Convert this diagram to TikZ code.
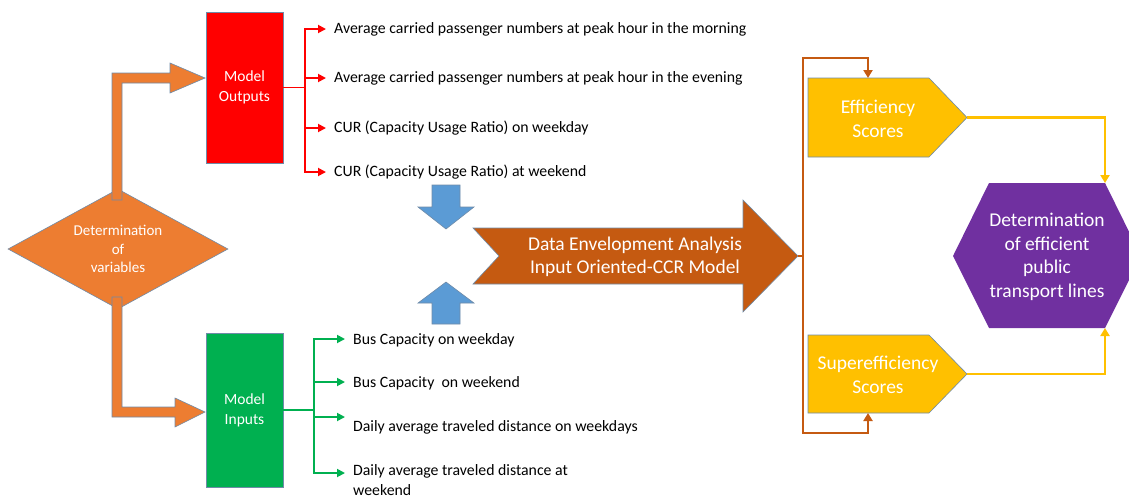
\documentclass[tikz,border=0pt]{standalone}
\usepackage{fontspec}
\setmainfont{Carlito}
\usetikzlibrary{shapes.geometric,arrows.meta}
\definecolor{orng}{HTML}{ED7D31}
\definecolor{brwn}{HTML}{C55A11}
\definecolor{blu}{HTML}{5B9BD5}
\definecolor{gold}{HTML}{FFC000}
\definecolor{purp}{HTML}{7030A0}
\definecolor{grn}{HTML}{00B050}
\definecolor{edgec}{HTML}{6F8BA8}
\begin{document}
\begin{tikzpicture}[x=1pt,y=-1pt,
  shp/.style={draw=edgec,line width=0.6pt},
  lbl/.style={font=\fontsize{15.8}{20.5}\selectfont,anchor=west,inner sep=0pt,align=left},
  boxlbl/.style={text=white,align=center,font=\fontsize{15.5}{20}\selectfont},
  bigtxt/.style={text=white,align=center,font=\fontsize{19.5}{23.5}\selectfont},
  mbox/.style={shp,minimum width=77pt,inner sep=0pt},
  redc/.style={draw=red,line width=1.8pt,-{Triangle[length=8pt,width=8pt]}},
  grnc/.style={draw=grn,line width=1.8pt,-{Triangle[length=8pt,width=8pt]}},
  brnc/.style={draw=brwn,line width=2.2pt,-{Triangle[length=8pt,width=9pt]}},
  yelc/.style={draw=gold,line width=2.2pt,-{Triangle[length=8pt,width=9pt]}}]
\clip (0,0) rectangle (1129,501);
\fill[white] (0,0) rectangle (1129,501);

% diamond
\node[shp,fill=orng,diamond,aspect=1.83,minimum width=220pt,minimum height=120pt,inner sep=0pt,
  boxlbl,font=\fontsize{15}{18.5}\selectfont] (var) at (118,249) {Determination\\of\\variables};

% model boxes
\node[mbox,fill=red,minimum height=151pt,boxlbl] (out) at (244.5,87.5) {Model\\Outputs};
\node[mbox,fill=grn,minimum height=154pt,boxlbl] (inp) at (244.5,410) {Model\\Inputs};

% orange L arrows
\fill[orng,shp] (112,200) -- (112,73) -- (170,73) -- (170,63) -- (205,78) -- (170,93) -- (170,83) -- (122,83) -- (122,200) -- cycle;
\fill[orng,shp] (112,297) -- (112,417) -- (175,417) -- (175,427) -- (205,412) -- (175,398) -- (175,407) -- (122,407) -- (122,297) -- cycle;

% output labels
\node[lbl] (o1) at (334,29) {Average carried passenger numbers at peak hour in the morning};
\node[lbl] (o2) at (334,78) {Average carried passenger numbers at peak hour in the evening};
\node[lbl] (o3) at (334,128) {CUR (Capacity Usage Ratio) on weekday};
\node[lbl] (o4) at (334,172) {CUR (Capacity Usage Ratio) at weekend};
\coordinate (rj) at (305,87.5);
\draw[draw=red,line width=1.8pt] (out.east) -- (rj);
\foreach \i in {1,...,4}{\draw[redc] (rj) |- ([xshift=-8pt]o\i.west);}

% input labels
\node[lbl] (i1) at (353,340) {Bus Capacity on weekday};
\node[lbl] (i2) at (353,383) {Bus Capacity \ on weekend};
\node[lbl] (i3) at (353,427) {Daily average traveled distance on weekdays};
\node[lbl,anchor=north west] (i4) at (353,464) {Daily average traveled distance at\\weekend};
\coordinate (gj) at (314,410);
\coordinate (g1) at (345,339);
\coordinate (g2) at (345,382);
\coordinate (g3) at (345,417);
\coordinate (g4) at (345,473);
\draw[draw=grn,line width=1.8pt] (inp.east) -- (gj);
\foreach \i in {1,...,4}{\draw[grnc] (gj) |- (g\i);}

% blue arrows
\fill[blu,shp] (432,185) -- (460,185) -- (460,207) -- (474,207) -- (446,229) -- (418,207) -- (432,207) -- cycle;
\fill[blu,shp] (432,324) -- (460,324) -- (460,303) -- (474,303) -- (446,282) -- (418,303) -- (432,303) -- cycle;

% big DEA arrow
\fill[brwn,shp] (473,228) -- (743,228) -- (743,200) -- (798,256) -- (743,312) -- (743,284) -- (473,284) -- (499,256) -- cycle;
\coordinate (deaTip) at (798,256);
\node[bigtxt] (dea) at (635,257) {Data Envelopment Analysis\\Input Oriented-CCR Model};

% score pentagons
\fill[gold,shp] (808,78) -- (929,78) -- (967,117.5) -- (929,157) -- (808,157) -- cycle;
\node[bigtxt] (eff) at (878,119) {Efficiency\\Scores};
\coordinate (effTop) at (868,78);
\coordinate (effTip) at (967,117.5);
\fill[gold,shp] (808,335) -- (929,335) -- (967,374) -- (929,413) -- (808,413) -- cycle;
\node[bigtxt] (sup) at (878,375) {Superefficiency\\Scores};
\coordinate (supBot) at (868,413);
\coordinate (supTip) at (967,374);

% hexagon
\fill[purp] (953,256) -- (989,183) -- (1105,183) -- (1141,256) -- (1105,328) -- (989,328) -- cycle;
\node[bigtxt] (hex) at (1047,257) {Determination\\of efficient\\public\\transport lines};
\coordinate (hexTR) at (1105,183);
\coordinate (hexBR) at (1105,328);

% brown connectors
\coordinate (bj) at (803,256);
\draw[draw=brwn,line width=2.2pt] (deaTip) -- (bj);
\draw[brnc] (bj) |- (868,58) -- (effTop);
\draw[brnc] (bj) |- (868,433) -- (supBot);

% yellow connectors
\draw[yelc] (effTip) -| (hexTR);
\draw[yelc] (supTip) -| (hexBR);
\end{tikzpicture}
\end{document}
